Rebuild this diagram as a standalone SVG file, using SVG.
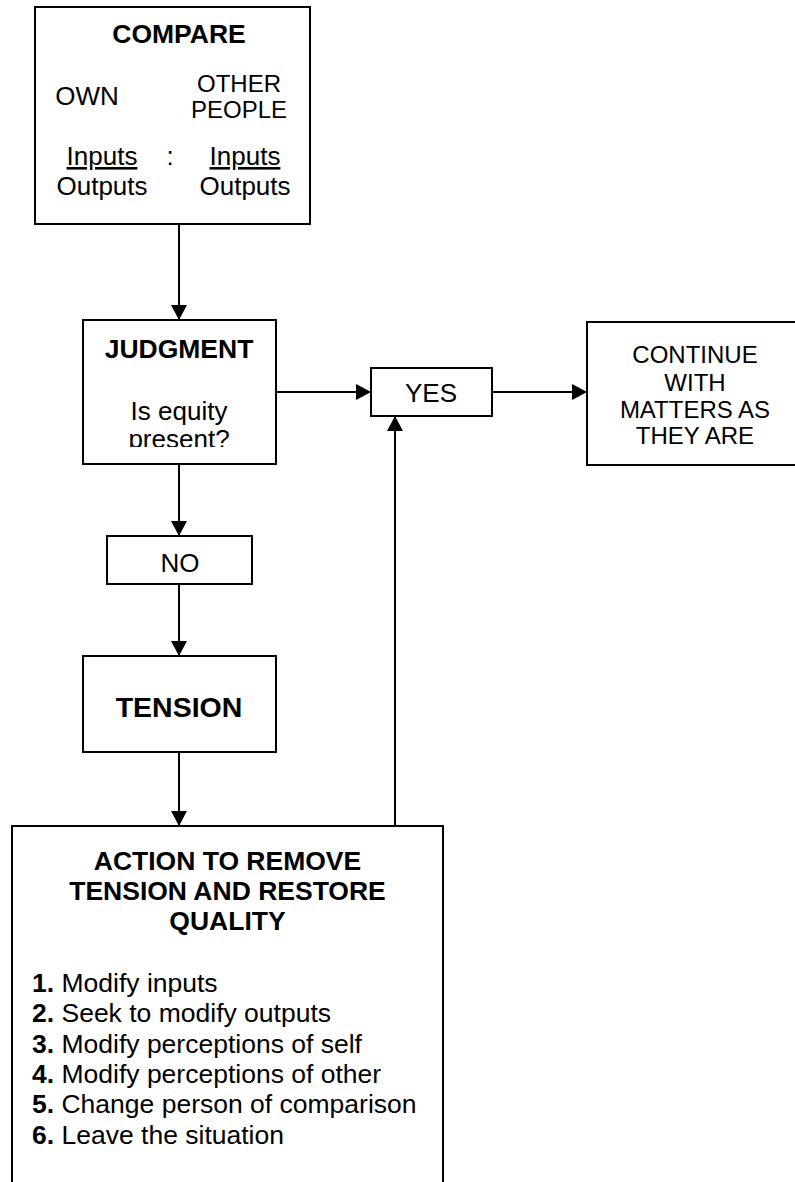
<svg xmlns="http://www.w3.org/2000/svg" width="795" height="1182" viewBox="0 0 795 1182">
<style>
.box{fill:#fff;stroke:#000;stroke-width:2}
.open{fill:none;stroke:#000;stroke-width:2}
.t{font-family:"Liberation Sans",Arial,sans-serif;font-size:26px;fill:#000;text-anchor:middle}
.b{font-weight:bold}
.l{text-anchor:start;font-size:26.5px}
.c{stroke:#000;stroke-width:2;fill:none;marker-end:url(#ah)}
</style>
<defs>
<marker id="ah" markerUnits="userSpaceOnUse" markerWidth="16" markerHeight="16" refX="15" refY="8" orient="auto">
<path d="M0,0 L15,8 L0,16 z" fill="#000"/>
</marker>
<clipPath id="jclip"><rect x="84" y="321" width="191" height="126"/></clipPath>
</defs>
<rect width="795" height="1182" fill="#fff"/>

<g id="connectors">
<line class="c" x1="179" y1="224" x2="179" y2="320"/>
<line class="c" x1="276" y1="392" x2="371" y2="392"/>
<line class="c" x1="492" y1="392" x2="587" y2="392"/>
<line class="c" x1="179" y1="464" x2="179" y2="536"/>
<line class="c" x1="179" y1="584" x2="179" y2="656"/>
<line class="c" x1="179" y1="752" x2="179" y2="826"/>
<line class="c" x1="395" y1="826" x2="395" y2="416"/>
</g>

<g id="compare">
<rect class="box" x="35" y="7" width="275" height="217"/>
<text class="t b" x="179" y="43" style="font-size:26.5px">COMPARE</text>
<text class="t" x="87" y="105">OWN</text>
<text class="t" x="239" y="92" style="font-size:24px">OTHER</text>
<text class="t" x="239" y="118" style="font-size:24px">PEOPLE</text>
<text class="t" x="102" y="165" text-decoration="underline">Inputs</text>
<text class="t" x="170" y="165">:</text>
<text class="t" x="245" y="165" text-decoration="underline">Inputs</text>
<text class="t" x="102" y="195">Outputs</text>
<text class="t" x="245" y="195">Outputs</text>
</g>

<g id="judgment">
<rect class="box" x="83" y="320" width="193" height="144"/>
<text class="t b" x="179" y="358" style="font-size:26.5px">JUDGMENT</text>
<g clip-path="url(#jclip)">
<text class="t" x="179" y="420">Is equity</text>
<text class="t" x="179" y="448">present?</text>
</g>
</g>

<g id="yes">
<rect class="box" x="371" y="368" width="121" height="48"/>
<text class="t" x="431" y="402">YES</text>
</g>

<g id="continue">
<rect class="box" x="587" y="322" width="220" height="143"/>
<text class="t" x="695" y="363" style="font-size:24px">CONTINUE</text>
<text class="t" x="695" y="391" style="font-size:24px">WITH</text>
<text class="t" x="695" y="418" style="font-size:24px">MATTERS AS</text>
<text class="t" x="695" y="444" style="font-size:24px">THEY ARE</text>
</g>

<g id="no">
<rect class="box" x="107" y="536" width="145" height="48"/>
<text class="t" x="180" y="572">NO</text>
</g>

<g id="tension">
<rect class="box" x="83" y="656" width="193" height="96"/>
<text class="t b" x="179" y="717" style="font-size:28.5px">TENSION</text>
</g>

<g id="action">
<path class="open" d="M12,1190 V826 H443 V1190"/>
<text class="t b" x="227.5" y="870" style="font-size:26.5px">ACTION TO REMOVE</text>
<text class="t b" x="227.5" y="900" style="font-size:26.5px">TENSION AND RESTORE</text>
<text class="t b" x="227.5" y="930" style="font-size:26.5px">QUALITY</text>
<text class="t l" x="32" y="992"><tspan class="b">1.</tspan> Modify inputs</text>
<text class="t l" x="32" y="1022"><tspan class="b">2.</tspan> Seek to modify outputs</text>
<text class="t l" x="32" y="1053"><tspan class="b">3.</tspan> Modify perceptions of self</text>
<text class="t l" x="32" y="1083"><tspan class="b">4.</tspan> Modify perceptions of other</text>
<text class="t l" x="32" y="1113"><tspan class="b">5.</tspan> Change person of comparison</text>
<text class="t l" x="32" y="1144"><tspan class="b">6.</tspan> Leave the situation</text>
</g>
</svg>
